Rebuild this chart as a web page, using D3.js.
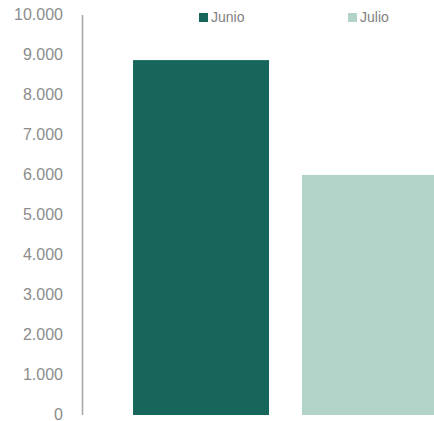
<!DOCTYPE html>
<html><head><meta charset="utf-8">
<script src="https://cdn.jsdelivr.net/npm/d3@7"></script>
<style>html,body{margin:0;padding:0;background:#fff;}svg{display:block;}</style>
</head><body>
<script>
const series = ["Junio", "Julio"];
const values = [8860, 5990];
const colors = ["#17665c", "#b2d4c8"];
const yTicks = [0,1000,2000,3000,4000,5000,6000,7000,8000,9000,10000];

const W = 434, H = 421;
const svg = d3.select("body").append("svg").attr("width", W).attr("height", H);

const y = d3.scaleLinear().domain([0, 10000]).range([414.5, 14.5]);
const x = d3.scaleBand().domain(series).range([82, 489]).paddingInner(0.195).paddingOuter(0.302);

const fmt = v => d3.format(",")(v).replace(/,/g, ".");

// bars
svg.selectAll("rect.bar").data(series).enter().append("rect")
  .attr("class", "bar")
  .attr("x", d => x(d))
  .attr("width", x.bandwidth())
  .attr("y", (d, i) => y(values[i]))
  .attr("height", (d, i) => y(0) - y(values[i]) + 0.5)
  .attr("fill", (d, i) => colors[i]);

// y axis
const yAxis = d3.axisLeft(y).tickValues(yTicks).tickFormat(fmt).tickSize(0).tickPadding(19);
const g = svg.append("g").attr("transform", "translate(82,0)").call(yAxis);
g.select(".domain").attr("stroke", "#a6a6a6").attr("stroke-width", 1.5);
g.selectAll("text").attr("fill", "#8c8c8c").style("font-family", "'Liberation Sans', Arial, sans-serif").style("font-size", "16px");

// legend
const legX = [199, 348];
const leg = svg.selectAll("g.leg").data(series).enter().append("g").attr("class", "leg")
  .attr("transform", (d, i) => `translate(${legX[i]},13)`);
leg.append("rect").attr("width", 9).attr("height", 9).attr("fill", (d, i) => colors[i]);
leg.append("text").attr("x", 12).attr("y", 4.5).attr("dy", "0.35em")
  .attr("fill", "#808080").style("font-family", "'Liberation Sans', Arial, sans-serif").style("font-size", "14px")
  .text(d => d);
</script>
</body></html>
